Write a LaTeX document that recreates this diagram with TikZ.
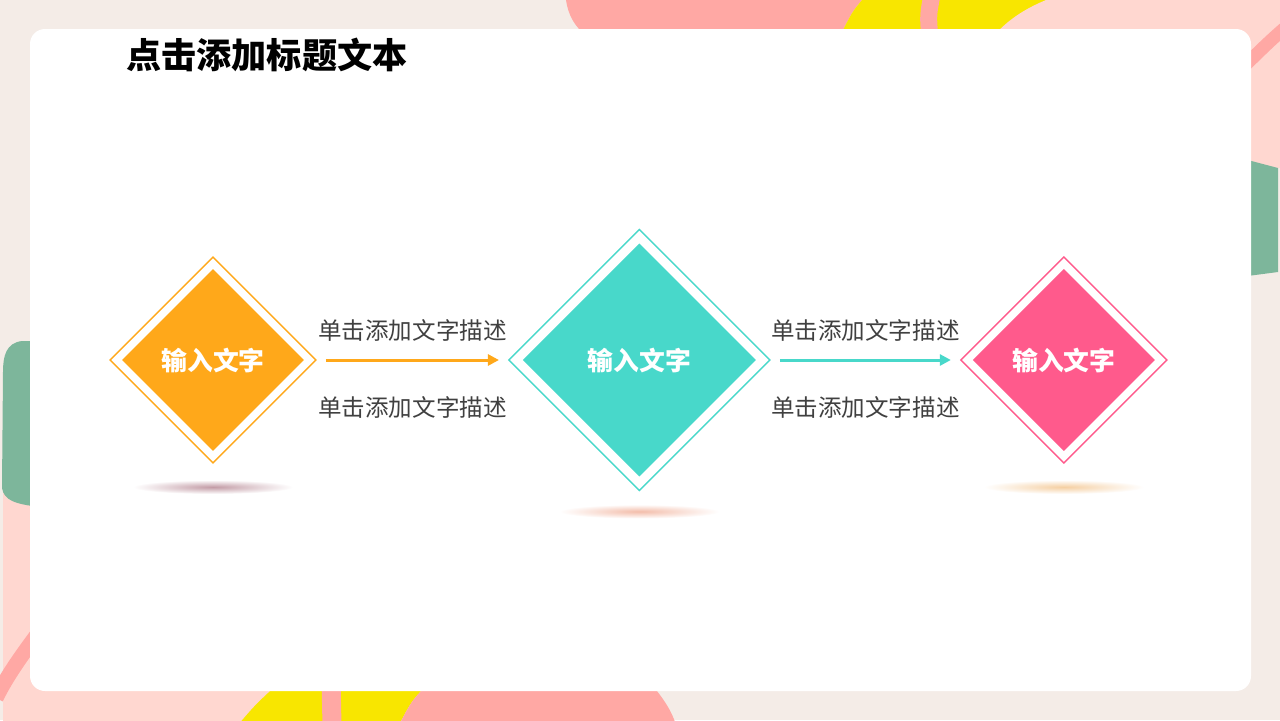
\documentclass[tikz,border=0pt]{standalone}
\usepackage{fontspec}
\setmainfont{Noto Sans CJK SC}
\usetikzlibrary{positioning,arrows.meta,shapes.geometric}
\definecolor{paper}{HTML}{F4ECE7}
\definecolor{blush}{HTML}{FFD7D0}
\definecolor{salmon}{HTML}{FFA8A4}
\definecolor{lemon}{HTML}{F8E600}
\definecolor{sage}{HTML}{7DB69B}
\definecolor{amber}{HTML}{FFA81A}
\definecolor{aqua}{HTML}{48D8CA}
\definecolor{rose}{HTML}{FF5A8C}
\definecolor{ink}{HTML}{404040}
\definecolor{shadeA}{HTML}{C39CA6}
\definecolor{shadeB}{HTML}{F3BDAA}
\definecolor{shadeC}{HTML}{F5CFA2}

\begin{document}
\begin{tikzpicture}[x=0.02cm,y=-0.02cm,>={Triangle[length=0.22cm,width=0.22cm]}]

\tikzstyle{outer} = [diamond, draw, line width=0.8pt, fill=white, inner sep=0pt, outer sep=0pt, minimum size=4.12cm]
\tikzstyle{inner} = [diamond, inner sep=0pt, outer sep=0pt, minimum size=3.64cm, text=white, font=\fontsize{14.7}{16}\selectfont\bfseries]
\tikzstyle{desc} = [text=ink, inner sep=0pt, font=\fontsize{13.4}{15}\selectfont]
\tikzstyle{link} = [->, line width=0.06cm, shorten <=0.2cm, shorten >=0.2cm]
\tikzstyle{floor} = [outer color=white]

% paper and blobs
\useasboundingbox (0,0) rectangle (1280,720);
\fill[paper] (0,0) rectangle (1280,720);
\fill[salmon] (566,0) -- (862,0) .. controls (852,12) .. (838,40) -- (592,40) .. controls (574,28) and (568,14) .. cycle;
\fill[lemon] (862,0) -- (1050,0) -- (1000,40) -- (838,40) .. controls (852,12) .. cycle;
\draw[salmon, line width=0.34cm] (932,-5) .. controls (928,15) .. (930,40);
\fill[blush] (1046,0) -- (1280,0) -- (1280,168) -- (1200,160) -- (990,40) .. controls (1005,22) and (1022,10) .. cycle;
\draw[salmon, line width=0.26cm] (1236,74) .. controls (1256,55) and (1270,40) .. (1292,22);
\fill[sage] (1240,158) -- (1278,168) -- (1278,272) -- (1240,277) -- cycle;
\fill[blush] (3,490) -- (40,490) -- (40,680) -- (285,680) -- (245,725) -- (3,725) -- cycle;
\fill[sage] (40,341) -- (22,341) .. controls (6,343) and (3,356) .. (3,372) -- (2,488) .. controls (4,500) and (14,504) .. (40,507) -- cycle;
\draw[salmon, line width=0.3cm] (-4,698) .. controls (6,678) and (18,660) .. (42,628);
\fill[lemon] (282,680) -- (432,680) .. controls (412,700) .. (399,725) -- (238,725) .. controls (255,705) .. cycle;
\draw[salmon, line width=0.38cm] (331,680) -- (332,725);
\fill[salmon] (432,680) -- (648,680) .. controls (665,700) and (672,712) .. (676,725) -- (399,725) .. controls (412,700) .. cycle;

% card
\fill[white, rounded corners=0.3cm] (30,29) rectangle (1251,691);

% title
\node [anchor=west, inner sep=0pt, font=\fontsize{20}{24}\selectfont\bfseries] (title) at (126,55) {点击添加标题文本};

% first step
\node [outer, draw=amber] (a) at (213,360) {};
\node [inner, fill=amber] (a1) at (a) {输入文字};
\shade [floor, inner color=shadeA] ([yshift=-0.48cm]a.south) ellipse [x radius=1.6cm, y radius=0.14cm];

% second step
\node [outer, draw=aqua, minimum size=5.22cm, right=3.86cm of a] (b) {};
\node [inner, fill=aqua, minimum size=4.66cm] (b1) at (b) {输入文字};
\shade [floor, inner color=shadeB] ([yshift=-0.42cm]b.south) ellipse [x radius=1.6cm, y radius=0.14cm];

% third step
\node [outer, draw=rose, right=3.82cm of b] (c) {};
\node [inner, fill=rose] (c1) at (c) {输入文字};
\shade [floor, inner color=shadeC] ([yshift=-0.48cm]c.south) ellipse [x radius=1.6cm, y radius=0.14cm];

% links
\draw [link, amber] (a) -- (b)
  node [desc, midway, yshift=0.6cm] (ab1) {单击添加文字描述}
  node [desc, midway, yshift=-0.94cm] (ab2) {单击添加文字描述};
\draw [link, aqua] (b) -- (c)
  node [desc, midway, yshift=0.6cm] (bc1) {单击添加文字描述}
  node [desc, midway, yshift=-0.94cm] (bc2) {单击添加文字描述};

\end{tikzpicture}
\end{document}
